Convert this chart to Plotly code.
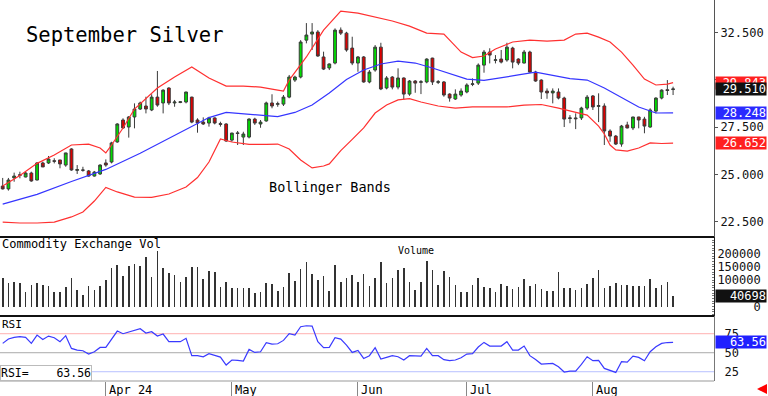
import plotly.graph_objects as go

MONO = "DejaVu Sans Mono"

# ---------------- data ----------------
open_ = [24.38,24.23,24.81,24.98,24.86,25.07,24.70,25.60,25.60,25.72,25.76,25.49,26.34,25.21,25.23,25.18,24.91,25.02,25.60,25.65,
         26.71,27.87,27.50,28.03,28.45,28.61,28.40,29.08,28.77,29.56,28.77,28.80,28.82,29.08,27.87,27.76,27.71,27.98,27.68,27.66,
         26.81,27.19,26.97,26.97,27.92,27.66,27.82,28.77,28.70,28.71,29.08,29.98,30.14,32.09,32.41,32.52,31.20,30.62,30.88,32.62,
         32.46,31.67,30.88,31.20,29.88,30.51,31.72,29.56,30.14,29.61,30.09,29.24,29.93,29.86,29.88,31.14,29.86,29.88,29.24,28.98,
         29.19,29.35,29.75,29.82,30.77,31.46,31.02,31.09,31.04,31.67,31.09,30.88,31.46,30.40,29.98,29.40,29.30,29.35,29.03,27.95,
         27.98,27.98,28.50,29.14,28.59,28.61,27.29,27.02,26.60,27.61,27.45,28.03,27.92,27.50,28.34,29.03,29.47,29.48]
high_ = [24.81,24.81,25.09,25.14,25.14,25.14,25.65,25.67,25.97,25.85,25.76,26.14,26.38,25.49,25.40,25.23,25.18,25.53,25.79,26.72,
         27.70,27.96,28.08,28.75,28.84,29.10,29.23,30.46,29.49,29.60,28.93,28.86,29.36,29.10,27.96,28.01,28.04,28.01,27.78,27.70,
         27.20,27.29,27.25,27.96,27.99,27.87,28.84,29.23,28.84,29.19,30.25,30.21,32.09,32.99,32.99,32.62,31.48,30.86,32.71,32.76,
         32.53,32.27,31.25,31.25,30.51,31.83,31.95,30.19,30.19,30.60,30.12,29.98,29.98,29.98,31.13,31.16,29.98,29.93,29.28,29.49,
         29.54,29.81,30.07,30.86,31.57,31.66,31.30,31.57,31.95,31.74,31.13,31.57,31.53,30.47,30.02,29.54,29.54,29.54,29.10,28.13,
         28.22,28.57,29.19,29.19,29.28,28.75,27.38,27.08,27.61,27.78,28.04,28.04,28.04,28.49,29.07,29.49,29.98,29.63]
low_ = [24.20,24.14,24.61,24.79,24.84,24.61,24.68,25.39,25.55,25.58,25.32,25.40,25.19,25.02,25.14,24.88,24.88,24.97,25.40,25.58,
        26.67,27.41,26.94,27.43,28.40,28.22,28.34,28.57,28.22,28.66,28.57,28.76,28.75,27.70,27.20,27.61,27.52,27.64,27.52,26.72,
        26.72,26.55,26.55,26.90,27.61,27.46,27.78,28.49,28.57,28.61,29.02,29.88,30.07,31.92,31.57,31.21,30.51,30.51,30.81,32.36,
        31.48,30.77,30.42,29.84,29.81,30.42,29.45,29.49,29.49,29.49,28.96,29.15,29.31,29.24,29.81,29.72,29.77,29.10,28.84,28.93,
        29.10,29.28,29.66,29.72,30.37,30.86,30.86,30.86,30.95,30.60,30.77,30.86,30.37,29.89,28.98,28.99,28.75,28.96,27.50,27.70,
        27.39,27.87,28.40,28.40,27.76,26.55,26.72,26.55,26.46,27.43,27.34,27.43,27.17,27.46,28.22,28.96,29.19,29.19]
close_ = [24.23,24.70,24.91,24.95,25.07,24.65,25.60,25.39,25.81,25.69,25.55,26.13,25.23,25.25,25.22,24.91,25.12,25.49,25.49,26.66,
          27.66,27.45,28.03,28.45,28.77,28.45,29.08,28.66,29.45,28.77,28.82,28.83,29.35,27.76,27.71,27.66,27.98,27.71,27.64,26.76,
          27.18,27.16,27.13,27.92,27.71,27.76,28.77,28.61,28.73,29.08,30.14,30.14,31.99,32.36,32.52,31.25,30.56,30.83,32.62,32.46,
          31.57,30.88,31.20,29.88,30.40,31.72,29.51,30.09,29.61,30.09,29.24,29.93,29.82,29.89,31.09,29.88,29.89,29.19,29.03,29.24,
          29.40,29.72,29.78,30.77,31.46,31.30,31.05,30.93,31.72,30.93,30.88,31.46,30.40,29.93,29.35,29.30,29.40,29.03,27.92,27.98,
          27.94,28.50,29.08,28.56,28.63,27.29,27.02,26.60,27.55,27.45,28.03,27.87,27.55,28.40,29.03,29.45,29.43,29.510]

volume = [106000,87000,91000,87000,53000,81000,87000,81000,79000,53000,53000,72000,109000,62000,43000,79000,62000,79000,100000,144000,
          157000,115000,154000,160000,153000,186000,110000,209000,144000,125000,119000,91000,113000,150000,150000,104000,134000,131000,75000,94000,
          69000,69000,71000,71000,52000,56000,87000,84000,60000,75000,125000,96000,142000,169000,123000,100000,116000,60000,157000,94000,
          109000,119000,94000,123000,77000,106000,169000,87000,109000,138000,147000,94000,62000,94000,172000,138000,81000,134000,110000,81000,
          53000,56000,81000,109000,75000,69000,56000,84000,79000,65000,75000,104000,79000,84000,66000,60000,60000,129000,69000,69000,
          62000,69000,84000,109000,138000,71000,79000,87000,81000,81000,77000,77000,77000,104000,71000,81000,94000,40698]

rsi = [62.3,68.0,70.2,71.1,70.2,62.3,73.2,67.5,71.9,69.7,64.5,72.4,55.7,53.5,52.6,48.2,51.3,57.0,57.0,68.0,
       78.5,75.0,77.2,79.8,81.6,75.9,77.6,71.9,74.6,64.5,64.9,64.5,68.9,46.1,46.1,44.7,48.7,46.1,44.3,33.8,
       40.4,39.9,39.0,54.4,50.4,51.3,63.2,61.4,61.8,66.2,75.0,73.2,84.2,85.5,85.1,64.5,56.6,57.0,69.7,68.0,
       60.1,50.4,53.1,42.5,46.1,56.6,41.6,43.9,46.1,44.7,40.4,46.1,46.1,45.6,55.7,46.1,46.1,40.8,39.5,40.4,
       43.4,48.2,48.7,57.5,63.6,58.8,58.8,58.8,64.5,53.5,53.5,58.8,46.1,41.2,35.1,35.1,36.0,31.6,24.6,25.9,
       25.9,34.6,44.7,39.5,39.9,29.4,27.2,24.1,38.2,37.7,45.6,43.9,39.5,51.3,57.9,62.3,63.4,63.56]

bb_upper_idx = [0,3,6,9,12,15,17,18,19,21,23,25,27,30,33,36,39,42,45,48,49,50,53,56,59,62,65,68,71,74,77,80,82,84,86,89,92,95,98,100,102,104,106,108,110,112,114,116,117]
bb_upper = [24.38,24.94,25.58,26.02,26.55,26.60,26.39,26.13,26.55,27.45,28.45,29.03,29.56,30.14,30.67,30.09,29.66,29.66,29.61,29.45,29.40,29.98,31.20,32.62,33.62,33.52,33.31,33.10,32.83,32.46,32.41,31.46,31.17,31.25,31.62,31.99,32.09,32.04,32.09,32.41,32.46,32.25,31.99,31.46,30.77,30.03,29.72,29.77,29.843]

bb_mid_idx = [0,6,12,18,24,30,36,39,42,45,48,51,54,57,60,63,66,69,72,75,78,81,84,87,90,93,96,99,102,105,108,111,114,117]
bb_mid = [23.43,23.94,24.62,25.26,26.11,27.04,28.00,28.27,28.19,28.11,28.05,28.27,28.66,29.30,30.01,30.51,30.83,30.98,30.88,30.62,30.32,30.03,29.96,30.09,30.25,30.40,30.22,30.06,29.98,29.56,29.06,28.56,28.24,28.248]

bb_lower_idx = [0,3,6,9,12,14,16,18,20,23,26,29,32,34,36,38,40,43,46,48,50,52,54,56,57,59,61,63,65,67,69,71,73,76,79,82,85,88,91,94,97,100,102,104,105,106,107,109,111,113,115,117]
bb_lower = [22.48,22.43,22.43,22.48,22.75,23.01,23.59,24.31,24.07,23.80,23.78,23.96,24.33,24.83,25.65,26.87,26.71,26.58,26.58,26.60,26.34,25.76,25.34,25.44,25.55,26.25,26.85,27.45,28.24,28.66,28.93,29.00,28.82,28.61,28.50,28.56,28.56,28.56,28.66,28.69,28.50,28.29,28.13,27.55,27.13,26.55,26.29,26.23,26.39,26.66,26.63,26.652]

month_idx = [18, 40, 62, 81, 103]
month_labels = ["Apr 24", "May", "Jun", "Jul", "Aug"]

price_ticks = [22.5, 25.0, 27.5, 30.0, 32.5]
vol_ticks = [0, 100000, 150000, 200000]
rsi_ticks = [25, 50, 75]

# ---------------- figure ----------------
x = list(range(len(close_)))
fig = go.Figure()

fig.add_trace(go.Scatter(x=bb_upper_idx, y=bb_upper, mode="lines", line=dict(color="#ff3030", width=1.2), yaxis="y", hoverinfo="skip"))
fig.add_trace(go.Scatter(x=bb_lower_idx, y=bb_lower, mode="lines", line=dict(color="#ff3030", width=1.2), yaxis="y", hoverinfo="skip"))
fig.add_trace(go.Scatter(x=bb_mid_idx, y=bb_mid, mode="lines", line=dict(color="#3535ff", width=1.2), yaxis="y", hoverinfo="skip"))

fig.add_trace(go.Candlestick(
    x=x, open=open_, high=high_, low=low_, close=close_, yaxis="y",
    increasing=dict(fillcolor="#00dd00", line=dict(color="#3a3a3a", width=1)),
    decreasing=dict(fillcolor="#dd0000", line=dict(color="#3a3a3a", width=1)),
    whiskerwidth=0,
))

fig.add_trace(go.Bar(x=x, y=volume, yaxis="y2", marker=dict(color="#333333", line=dict(width=0)), width=0.28))

fig.add_trace(go.Scatter(x=x, y=rsi, mode="lines", line=dict(color="#3a3aff", width=1.2), yaxis="y3", hoverinfo="skip"))

H_PLOT = 381.0
main_lo = (H_PLOT - 237) / H_PLOT
vol_lo = (H_PLOT - 316) / H_PLOT

axis_font = dict(family=MONO, size=12, color="#111111")

fig.update_layout(
    width=768, height=396,
    margin=dict(l=0, r=54, t=0, b=15),
    paper_bgcolor="white", plot_bgcolor="white",
    showlegend=False,
    bargap=0,
    hovermode=False,
    xaxis=dict(range=[-0.47, 124.14], anchor="y3", showgrid=False, zeroline=False, showline=False,
               tickvals=month_idx, ticks="outside", ticklen=15, tickcolor="#888888", tickwidth=1,
               showticklabels=False, rangeslider=dict(visible=False), fixedrange=True),
    yaxis=dict(domain=[main_lo, 1], range=[21.69, 34.21], side="right", anchor="x",
               showgrid=False, zeroline=False, showline=True, linecolor="#555555", linewidth=1,
               tickvals=price_ticks,
               ticktext=[("%.3f" % v) if v != 30.0 else "" for v in price_ticks],
               ticks="outside", ticklen=3, tickcolor="#555555", tickfont=axis_font),
    yaxis2=dict(domain=[vol_lo, main_lo], range=[-35850, 262260], side="right", anchor="x",
                showgrid=False, zeroline=False, showline=True, linecolor="#222222", linewidth=1,
                tickvals=vol_ticks,
                ticktext=[str(v).rjust(6, "\u00a0") for v in vol_ticks],
                ticks="", tickfont=axis_font,
                minor=dict(ticks="inside", ticklen=2, dtick=10000, tickcolor="#777777", showgrid=False)),
    yaxis3=dict(domain=[0, vol_lo], range=[12.8, 98.3], side="right", anchor="x",
                showgrid=False, zeroline=False, showline=True, linecolor="#777777", linewidth=1,
                tickvals=rsi_ticks,
                ticktext=["\u00a0" + str(v) for v in rsi_ticks],
                ticks="", tickfont=axis_font),
)

shapes = [
    dict(type="line", xref="paper", yref="paper", x0=0, x1=1, y0=main_lo, y1=main_lo, line=dict(color="#111111", width=2)),
    dict(type="line", xref="paper", yref="paper", x0=0, x1=1, y0=vol_lo, y1=vol_lo, line=dict(color="#111111", width=2)),
    dict(type="line", xref="paper", yref="paper", x0=0, x1=1, y0=0, y1=0, line=dict(color="#999999", width=1)),
    dict(type="line", xref="paper", yref="y3", x0=0, x1=1, y0=75, y1=75, line=dict(color="#ffb0b0", width=1), layer="below"),
    dict(type="line", xref="paper", yref="y3", x0=0, x1=1, y0=50, y1=50, line=dict(color="#aaaaaa", width=1), layer="below"),
    dict(type="line", xref="paper", yref="y3", x0=0, x1=1, y0=25, y1=25, line=dict(color="#b8c0ff", width=1), layer="below"),
]
fig.update_layout(shapes=shapes)

ann = []
ann.append(dict(text="September Silver", x=24 / 714, y=(H_PLOT - 35) / H_PLOT, xref="paper", yref="paper",
                xanchor="left", yanchor="middle", showarrow=False, font=dict(family=MONO, size=20.5, color="black")))
ann.append(dict(text="Bollinger Bands", x=267 / 714, y=(H_PLOT - 187) / H_PLOT, xref="paper", yref="paper",
                xanchor="left", yanchor="middle", showarrow=False, font=dict(family=MONO, size=13.5, color="black")))
ann.append(dict(text="Commodity Exchange Vol", x=0, y=(H_PLOT - 244) / H_PLOT, xref="paper", yref="paper",
                xanchor="left", yanchor="middle", showarrow=False, font=dict(family=MONO, size=12, color="black")))
ann.append(dict(text="Volume", x=396 / 714, y=(H_PLOT - 250) / H_PLOT, xref="paper", yref="paper",
                xanchor="left", yanchor="middle", showarrow=False, font=dict(family=MONO, size=10, color="black")))
ann.append(dict(text="RSI", x=0, y=(H_PLOT - 324) / H_PLOT, xref="paper", yref="paper",
                xanchor="left", yanchor="middle", showarrow=False, font=dict(family=MONO, size=11, color="black")))
ann.append(dict(text="RSI=\u00a0\u00a0\u00a0\u00a0" + "%.2f" % rsi[-1], x=0, y=0, xref="paper", yref="paper",
                xanchor="left", yanchor="bottom", showarrow=False, bgcolor="white", bordercolor="#bbbbbb",
                borderwidth=1, borderpad=0, font=dict(family=MONO, size=11.5, color="black")))

for i, lab in zip(month_idx, month_labels):
    ann.append(dict(text=lab, x=i, xref="x", y=0, yref="paper", xanchor="left", yanchor="top", xshift=1,
                    showarrow=False, font=dict(family=MONO, size=12, color="black")))

def value_box(text, yval, yref, bg):
    return dict(text=text, x=1, xref="paper", xanchor="left", xshift=1, y=yval, yref=yref, yanchor="middle",
                showarrow=False, bgcolor=bg, width=50, height=12, align="right", borderpad=0,
                font=dict(family=MONO, size=12, color="white"))

ann.append(value_box("%.3f" % bb_upper[-1], bb_upper[-1], "y", "#ff2020"))
ann.append(value_box("%.3f" % close_[-1], close_[-1], "y", "#111111"))
ann.append(value_box("%.3f" % bb_mid[-1], bb_mid[-1], "y", "#2a2aff"))
ann.append(value_box("%.3f" % bb_lower[-1], bb_lower[-1], "y", "#ff2020"))
ann.append(value_box(str(volume[-1]), volume[-1], "y2", "#111111"))
ann.append(value_box("%.2f" % rsi[-1], rsi[-1], "y3", "#2020ff"))

ann.append(dict(text="", x=757 / 714, y=-8 / H_PLOT, xref="paper", yref="paper", showarrow=True,
                ax=11, ay=0, arrowhead=2, arrowsize=0.8, arrowwidth=2.5, arrowcolor="#ff0000"))

fig.update_layout(annotations=ann)

fig.write_html("out.html", config={"displayModeBar": False, "staticPlot": True},
               post_script="document.body.style.margin='0px';document.body.style.overflow='hidden';")
